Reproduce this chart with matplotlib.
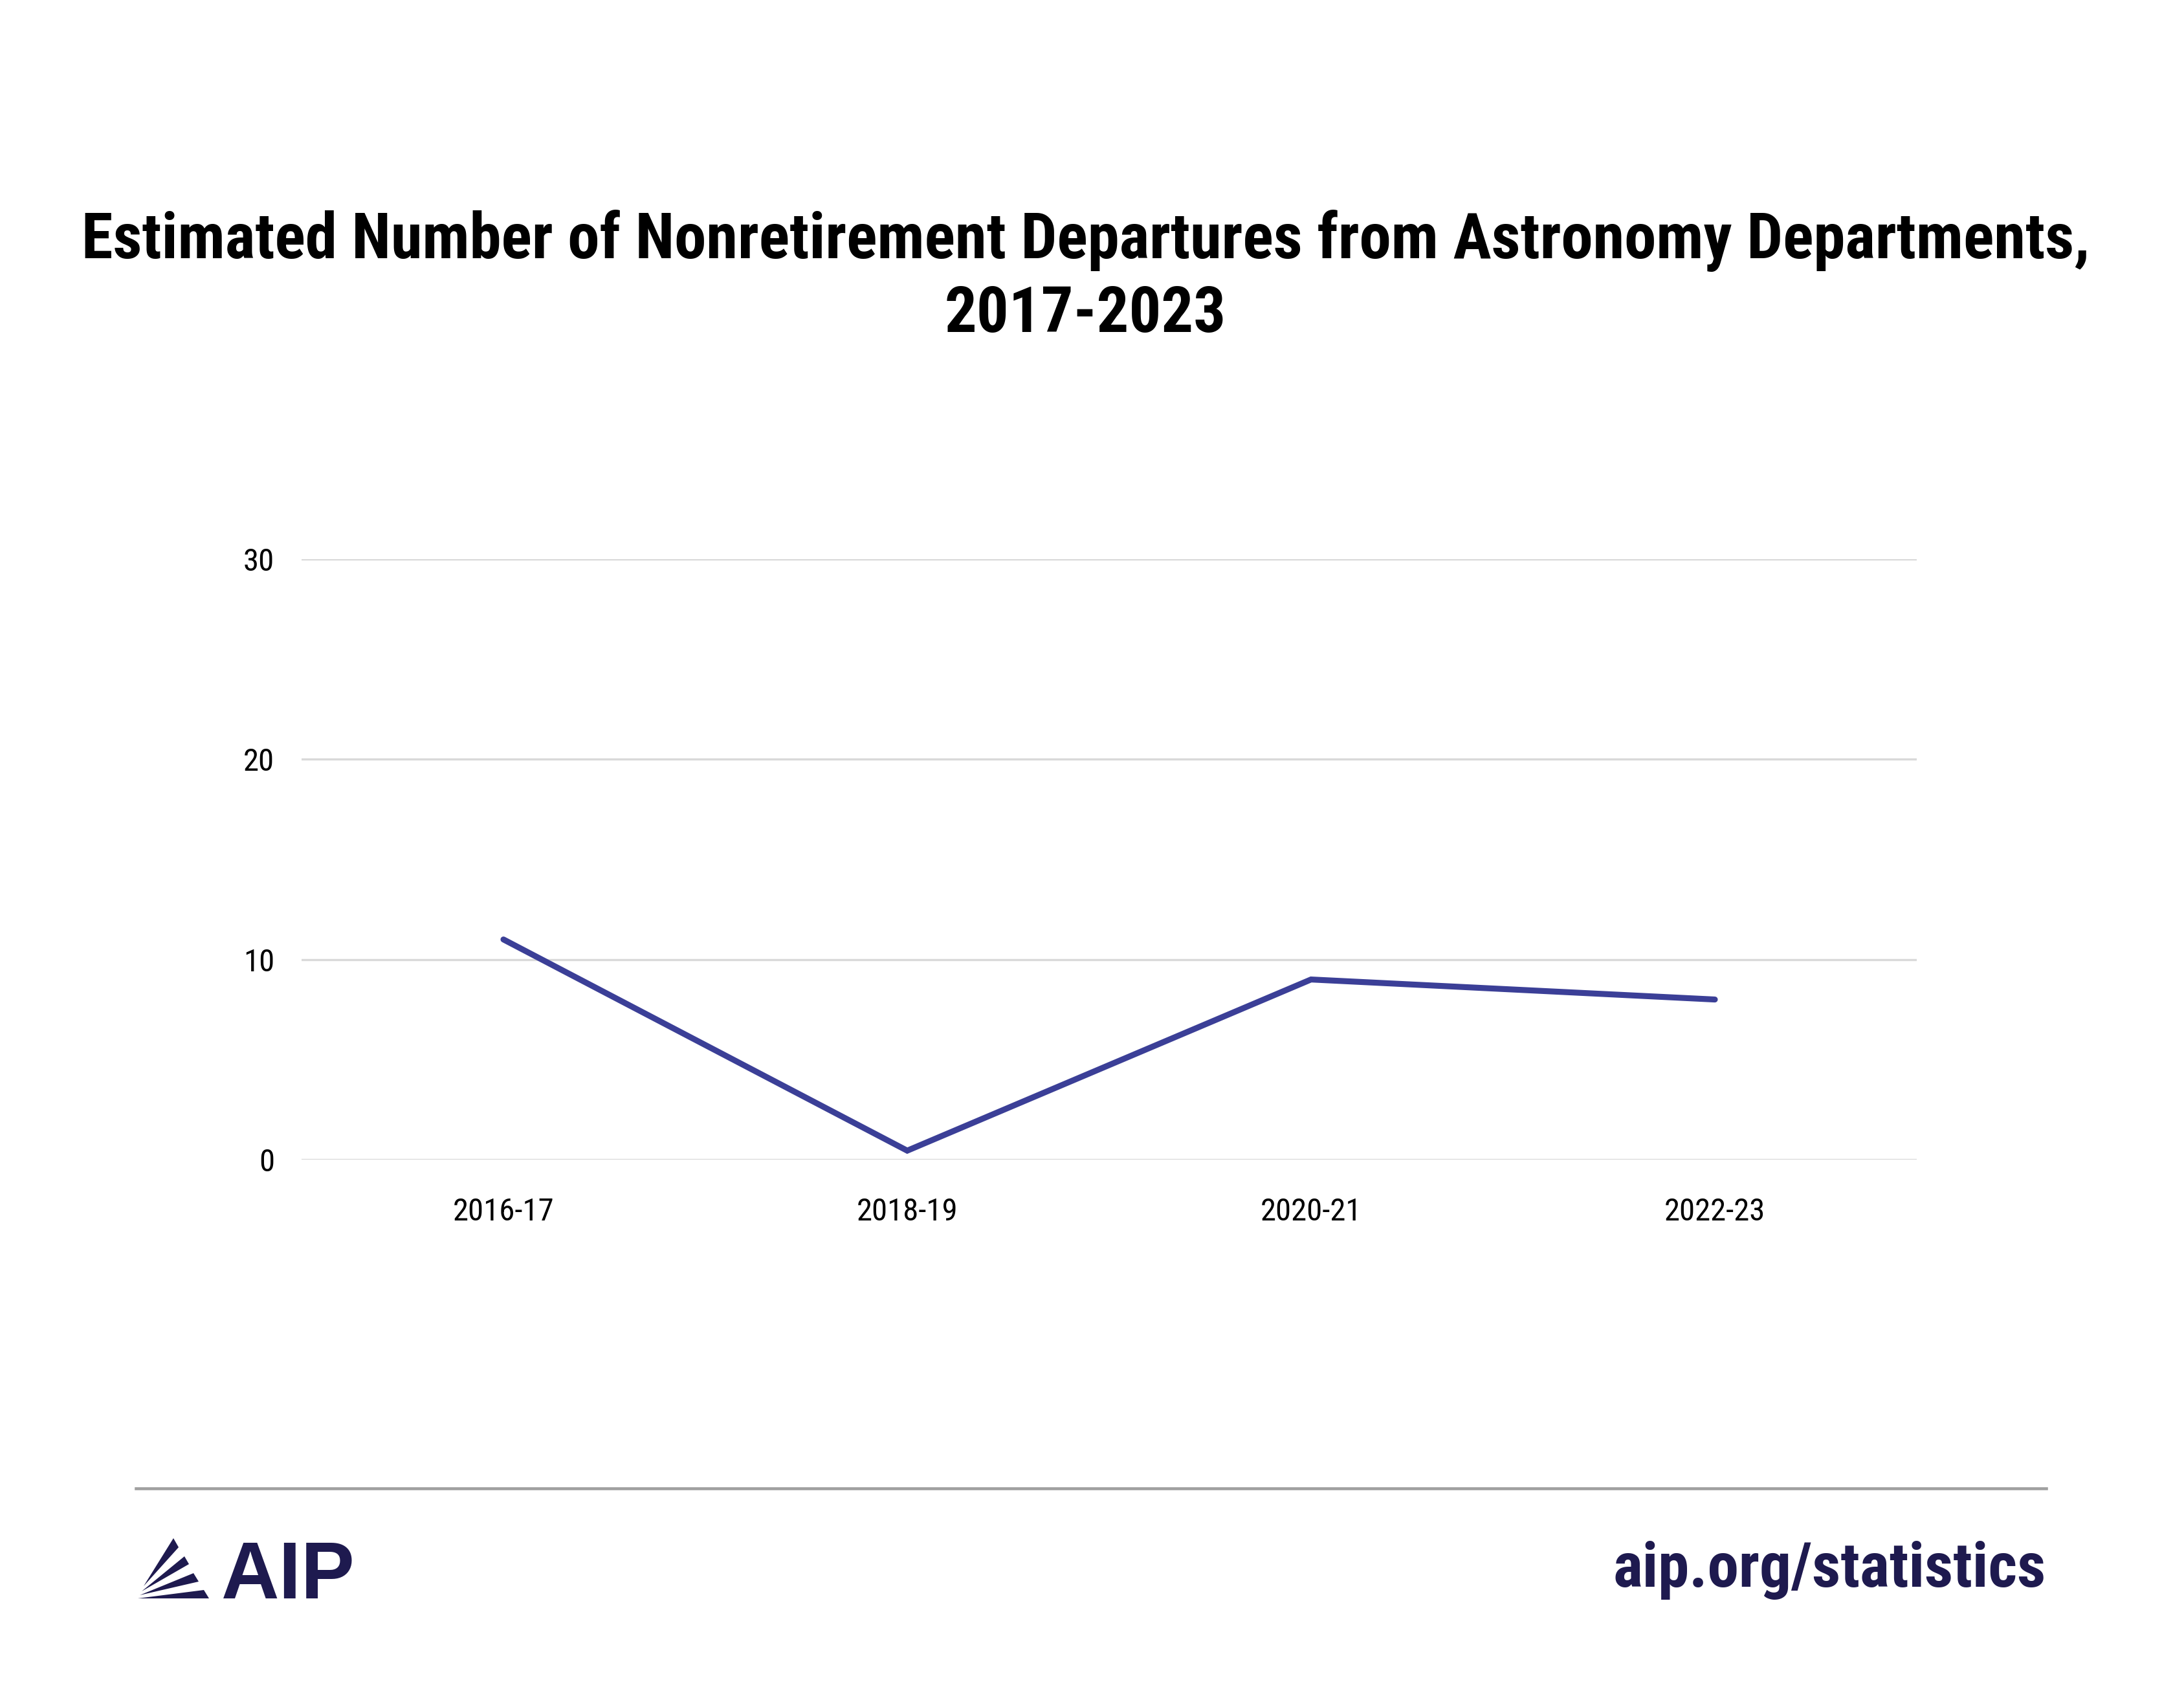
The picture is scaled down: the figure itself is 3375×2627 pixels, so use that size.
import matplotlib
matplotlib.use('Agg')
import matplotlib.pyplot as plt
from matplotlib import font_manager
from matplotlib.patches import Polygon
from matplotlib.lines import Line2D

# Data
periods = ['2016-17', '2018-19', '2020-21', '2022-23']
departures = [11, 0.45, 9, 8]
y_ticks = [0, 10, 20, 30]

title_text = ('Estimated Number of Nonretirement Departures from Astronomy Departments,\n'
              '2017-2023')

NAVY = '#1e1a4f'
LINE_COLOR = '#3b3f97'
GRID_COLOR = '#d9d9d9'

names = {f.name for f in font_manager.fontManager.ttflist}


def pick_font(candidates):
    for name in candidates:
        if name in names:
            return name
    return 'DejaVu Sans'


narrow = pick_font(['Roboto Condensed', 'Liberation Sans Narrow', 'Archivo Narrow',
                    'Liberation Sans'])
regular = pick_font(['Liberation Sans', 'Arimo', 'Roboto'])

W, H = 3375, 2627
fig = plt.figure(figsize=(W / 300, H / 300), dpi=300)
fig.patch.set_facecolor('white')

# Plot area
ax = fig.add_axes([466 / W, 1 - 1792 / H, (2962 - 466) / W, (1792 - 864) / H])
ax.plot(range(len(periods)), departures, color=LINE_COLOR, linewidth=2.2,
        solid_capstyle='round', solid_joinstyle='miter', zorder=3)

ax.set_xlim(-0.5, len(periods) - 0.5)
ax.set_ylim(0, 30)
ax.set_yticks(y_ticks)
ax.set_xticks(range(len(periods)))
ax.set_xticklabels(periods)
ax.grid(axis='y', color=GRID_COLOR, linewidth=0.8)
ax.set_axisbelow(True)
for s in ax.spines.values():
    s.set_visible(False)
ax.tick_params(axis='both', length=0, labelsize=11.7, colors='black')
ax.tick_params(axis='y', pad=10)
ax.tick_params(axis='x', pad=14)
for lbl in ax.get_xticklabels() + ax.get_yticklabels():
    lbl.set_fontfamily(narrow)

# Title
fig.text(0.497, 1 - 324 / H, title_text, ha='center', va='top',
         fontsize=23.7, fontweight='bold', family=narrow, color='black',
         linespacing=1.26)

# Footer rule
fig.add_artist(Line2D([210 / W, 3162 / W], [1 - 2300 / H, 1 - 2300 / H],
                      color='#a0a0a0', linewidth=1.1))

# Footer url
fig.text(3162 / W, 1 - 2452 / H, 'aip.org/statistics', ha='right',
         va='baseline', fontsize=23.3, fontweight='bold', family=narrow,
         color=NAVY)

# AIP logo: text plus fan of wedges
fig.text(342 / W, 1 - 2470 / H, 'AIP', ha='left', va='baseline',
         fontsize=29.8, fontweight='bold', family=regular, color=NAVY)

wedges = [
    [(222, 2457), (268, 2383), (276, 2397)],
    [(219, 2465), (285, 2411), (292, 2423)],
    [(216, 2471), (299, 2437), (307, 2450)],
    [(213, 2476), (315, 2463), (323, 2476)],
]
for pts in wedges:
    fig.add_artist(Polygon([(x / W, 1 - (y - 6) / H) for x, y in pts],
                           closed=True, facecolor=NAVY, edgecolor='none',
                           transform=fig.transFigure))

fig.savefig('out.png', dpi=300, facecolor='white')
